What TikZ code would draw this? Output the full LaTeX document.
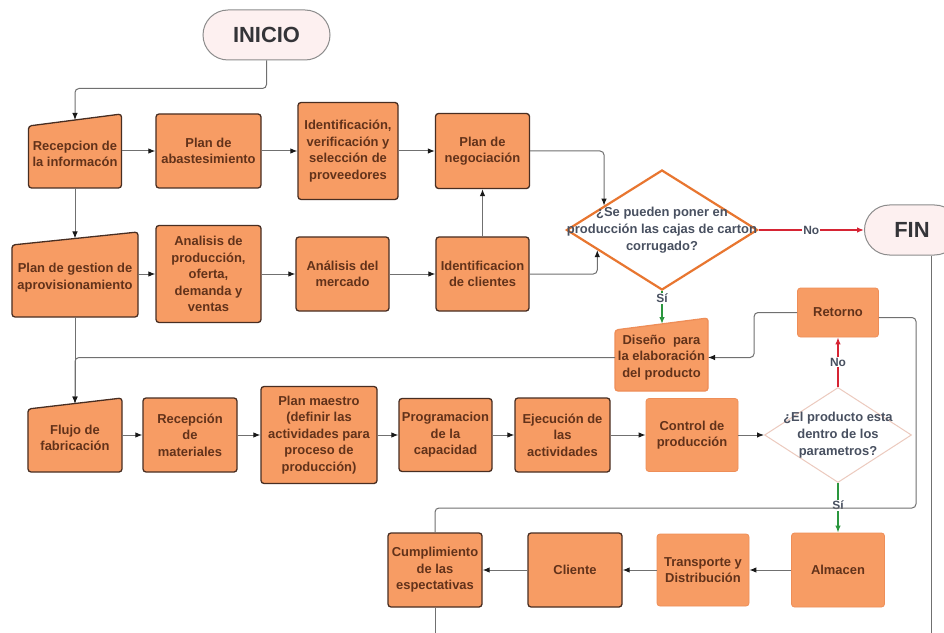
\documentclass[tikz,border=0pt]{standalone}
\usepackage{fontspec}
\setmainfont{Liberation Sans}
\usetikzlibrary{shapes.geometric,arrows.meta,calc,backgrounds}

\definecolor{boxfill}{RGB}{247,156,100}
\definecolor{boxdark}{RGB}{72,46,34}
\definecolor{boxlight}{RGB}{238,142,88}
\definecolor{boxtext}{RGB}{98,50,26}
\definecolor{qtext}{RGB}{72,80,96}
\definecolor{qone}{RGB}{232,118,48}
\definecolor{qtwo}{RGB}{236,202,190}
\definecolor{termfill}{RGB}{253,240,240}
\definecolor{termline}{RGB}{140,140,140}
\definecolor{termtext}{RGB}{52,52,56}
\definecolor{lnc}{RGB}{112,112,112}
\definecolor{arrc}{RGB}{25,25,25}
\definecolor{nored}{RGB}{214,36,52}
\definecolor{sigreen}{RGB}{42,150,62}

% Manual-input outline behind a named text node (slanted top edge)
\newcommand\mnshape[3]{%
  \begin{pgfonlayer}{background}
    \draw[fill=boxfill, draw=#3, line width=1.3bp, rounded corners=3bp]
      (#1.south west) -- ($(#1.north west)+(0,#2)$) --
      ($(#1.north east)+(0,-#2)$) -- (#1.south east) -- cycle;
  \end{pgfonlayer}}

\begin{document}
\begin{tikzpicture}[x=1bp,y=-1bp,
  txt/.style={font=\fontsize{13pt}{16.5pt}\selectfont\bfseries, text=boxtext, align=center},
  proc/.style={txt, rectangle, rounded corners=3bp, fill=boxfill, draw=boxdark,
               line width=1.3bp, inner sep=1bp},
  procl/.style={proc, draw=boxlight, line width=0.8bp},
  manual/.style={txt, rectangle, inner sep=1bp, outer sep=0pt},
  term/.style={rectangle, rounded corners=25bp, fill=termfill, draw=termline,
               line width=1bp, font=\fontsize{22pt}{24pt}\selectfont\bfseries,
               text=termtext, minimum height=50bp, inner sep=0pt},
  decide/.style={diamond, fill=white, inner sep=0pt},
  qtxt/.style={font=\fontsize{13pt}{17pt}\selectfont\bfseries, text=qtext, align=center},
  lbl/.style={font=\fontsize{12pt}{14pt}\selectfont\bfseries, text=qtext, fill=white, inner sep=1bp},
  conn/.style={draw=lnc, line width=1bp, rounded corners=4bp,
               -{Latex[length=7bp,width=5.5bp,color=arrc]}},
  plain/.style={draw=lnc, line width=1bp, rounded corners=4bp},
  nolink/.style={draw=nored, line width=1.3bp, -{Latex[length=7bp,width=5.5bp]}},
  silink/.style={draw=sigreen, line width=1.3bp, -{Latex[length=7bp,width=5.5bp]}},
]
\useasboundingbox (0,0) rectangle (944,633);
\clip (0,0) rectangle (944,633);
\begin{pgfonlayer}{background}
  \fill[white] (0,0) rectangle (944,633);
\end{pgfonlayer}

% terminals
\node[term, minimum width=127bp] (ini) at (266.5,35) {INICIO};
\node[term, minimum width=95bp] (fin) at (912,230) {FIN};

% first row
\node[manual, minimum width=93bp, minimum height=68bp] (rec) at (75,154) {Recepcion de\\la informacón};
\mnshape{rec}{6}{boxdark}
\node[proc, minimum width=105bp, minimum height=74bp] (abast) at (208.5,151) {Plan de\\abastesimiento};
\node[proc, minimum width=100bp, minimum height=97bp] (ident) at (348,151) {Identificación,\\verificación y\\selección de\\proveedores};
\node[proc, minimum width=94bp, minimum height=75bp] (neg) at (482.5,151) {Plan de\\negociación};

% first decision
\node[decide, draw=qone, line width=2.2bp, minimum width=191bp, minimum height=120bp] (dia1) at (662,230) {};
\node[qtxt] (q1) at (dia1) {¿Se pueden poner en\\producción las cajas de carton\\corrugado?};

% second row
\node[manual, minimum width=126bp, minimum height=78.5bp] (gest) at (75,277.75) {Plan de gestion de\\aprovisionamiento};
\mnshape{gest}{6.5}{boxdark}
\node[proc, minimum width=105bp, minimum height=97bp] (anal) at (208.5,274) {Analisis de\\producción,\\oferta,\\demanda y\\ventas};
\node[proc, minimum width=93bp, minimum height=74bp] (merc) at (342.5,274) {Análisis del\\mercado};
\node[proc, minimum width=93bp, minimum height=74bp] (clie) at (482.5,274) {Identificacion\\de clientes};

% design and return
\node[manual, minimum width=93bp, minimum height=67bp] (dis) at (661.5,357.5) {Diseño\ \ para\\la elaboración\\del producto};
\mnshape{dis}{6}{boxlight}
\node[procl, minimum width=81bp, minimum height=49bp] (ret) at (838,312.5) {Retorno};

% third row
\node[manual, minimum width=94bp, minimum height=68.5bp] (flujo) at (75,437.75) {Flujo de\\fabricación};
\mnshape{flujo}{5.5}{boxdark}
\node[proc, minimum width=94bp, minimum height=74bp] (recm) at (190,435) {Recepción\\de\\materiales};
\node[proc, minimum width=116bp, minimum height=97bp] (maes) at (319,435) {Plan maestro\\(definir las\\actividades para\\proceso de\\producción)};
\node[proc, minimum width=93bp, minimum height=73bp] (prog) at (445.5,435) {Programacion\\de la\\capacidad};
\node[proc, minimum width=95bp, minimum height=74bp] (ejec) at (562.5,435) {Ejecución de\\las\\actividades};
\node[procl, minimum width=92bp, minimum height=73bp] (ctrl) at (692,435) {Control de\\producción};

% second decision
\node[decide, draw=qtwo, line width=1bp, minimum width=147bp, minimum height=95bp] (dia2) at (838,435) {};
\node[qtxt] (q2) at (dia2) {¿El producto esta\\dentro de los\\parametros?};

% fourth row
\node[proc, minimum width=94bp, minimum height=74bp] (cump) at (435,570) {Cumplimiento\\de las\\espectativas};
\node[proc, minimum width=94bp, minimum height=74bp] (clte) at (575,570) {Cliente};
\node[procl, minimum width=92bp, minimum height=72bp] (trans) at (703,570) {Transporte y\\Distribución};
\node[procl, minimum width=93bp, minimum height=74bp] (alm) at (838,570) {Almacen};

% free ends and bends of the long lines
\coordinate (loopc) at (916,508);
\coordinate (cumpend) at (435,633);
\coordinate (finend) at (931,633);

% connectors, first block
\draw[conn] (ini.south) -- ++(0,28) -| (rec.north);
\draw[conn] (rec.east |- abast.west) -- (abast.west);
\draw[conn] (abast.east) -- (ident.west);
\draw[conn] (ident.east) -- (neg.west);
\draw[conn] (neg.east) -| ($(dia1.west)!0.4!(dia1.north)$);
\draw[conn] (clie.east) -| ($(dia1.west)!0.33!(dia1.south)$);
\draw[conn] (clie.north) -- (neg.south);
\draw[conn] (rec.south) -- (gest.north);
\draw[conn] (gest.east |- anal.west) -- (anal.west);
\draw[conn] (anal.east) -- (merc.west);
\draw[conn] (merc.east) -- (clie.west);

% outcomes of the first decision
\draw[nolink] (dia1.east) -- node[lbl] {No} (fin.west);
\draw[silink] (dia1.south) -- node[lbl, pos=0.22] {Sí} (dia1.south |- dis.north);

% return and production flow
\draw[conn] (ret.west) -- ++(-43,0) |- (dis.east);
\draw[conn] (dis.west) -| (flujo.north);
\draw[conn] (gest.south) -- (flujo.north);
\draw[conn] (flujo.east |- recm.west) -- (recm.west);
\draw[conn] (recm.east) -- (maes.west);
\draw[conn] (maes.east) -- (prog.west);
\draw[conn] (prog.east) -- (ejec.west);
\draw[conn] (ejec.east) -- (ctrl.west);
\draw[conn] (ctrl.east) -- (dia2.west);

% outcomes of the second decision
\draw[nolink] (dia2.north) -- node[lbl] {No} (ret.south);
\draw[silink] (dia2.south) -- node[lbl, pos=0.45] {Sí} (alm.north);

% long loop lines
\draw[plain] ($(ret.east)+(0,5)$) -| (loopc) -| (cump.north);
\draw[plain] (cump.south) -- (cumpend);
\draw[plain] (fin.south -| finend) -- (finend);

% fourth row
\draw[conn] (alm.west) -- (trans.east);
\draw[conn] (trans.west) -- (clte.east);
\draw[conn] (clte.west) -- (cump.east);
\end{tikzpicture}
\end{document}
